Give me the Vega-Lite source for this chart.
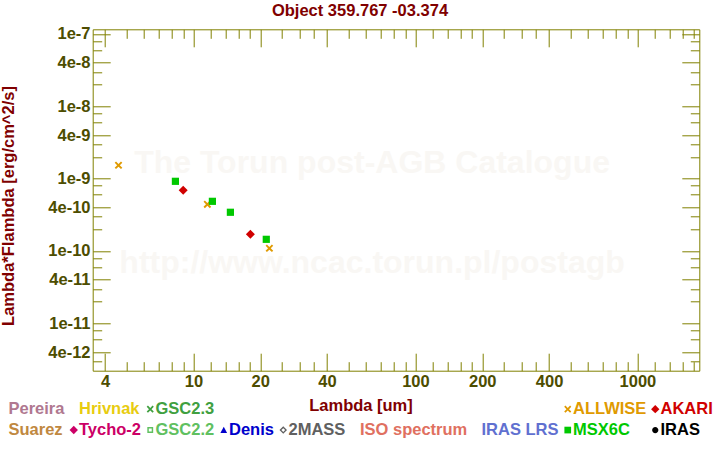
{
  "$schema": "https://vega.github.io/schema/vega-lite/v6.json",
  "width": 606.6,
  "height": 341.4,
  "autosize": {"type": "none"},
  "padding": {"left": 92.7, "top": 29.3, "right": 20.7, "bottom": 79.3},
  "background": "white",
  "title": {
    "text": "Object 359.767 -03.374",
    "color": "#800000",
    "font": "Liberation Sans",
    "fontSize": 16.5,
    "fontWeight": "bold",
    "anchor": "middle",
    "frame": "group",
    "dx": -36,
    "offset": -6.5,
    "baseline": "alphabetic"
  },
  "datasets": {
    "phot": [
      {"catalog": "ALLWISE", "lambda": 4.6, "flux": 1.53e-9},
      {"catalog": "ALLWISE", "lambda": 11.56, "flux": 4.42e-10},
      {"catalog": "ALLWISE", "lambda": 22.0, "flux": 1.09e-10},
      {"catalog": "AKARI", "lambda": 9.0, "flux": 6.9e-10},
      {"catalog": "AKARI", "lambda": 18.06, "flux": 1.7e-10},
      {"catalog": "MSX6C", "lambda": 8.3, "flux": 9.19e-10},
      {"catalog": "MSX6C", "lambda": 12.18, "flux": 4.86e-10},
      {"catalog": "MSX6C", "lambda": 14.68, "flux": 3.43e-10},
      {"catalog": "MSX6C", "lambda": 21.3, "flux": 1.45e-10}
    ],
    "watermark": [
      {"text": "The Torun post-AGB Catalogue", "lambda": 63.8, "flux": 1.63e-9},
      {"text": "http://www.ncac.torun.pl/postagb", "lambda": 63.8, "flux": 6.76e-11}
    ]
  },
  "layer": [
    {
      "data": {"name": "watermark"},
      "mark": {"type": "text", "font": "Liberation Sans", "fontWeight": "bold", "fontSize": 32, "color": "#f9f7f4", "align": "center", "baseline": "middle"},
      "encoding": {
        "x": {
          "field": "lambda", "type": "quantitative",
          "scale": {"type": "log", "domain": [3.52, 1900], "nice": false, "zero": false},
          "axis": {
            "orient": "top", "title": null, "labels": false,
            "values": [4,5,6,7,8,9,10,12,14,16,18,20,25,30,35,40,50,60,70,80,90,100,120,140,160,180,200,250,300,350,400,500,600,700,800,900,1000,1200,1400,1600,1800],
            "tickSize": {"condition": {"test": "indexof([4,10,20,40,100,200,400,1000], datum.value) >= 0", "value": -17.5}, "value": -9}
          }
        },
        "y": {
          "field": "flux", "type": "quantitative",
          "scale": {"type": "log", "domain": [2.213e-12, 1.161e-7], "nice": false, "zero": false},
          "axis": {
            "orient": "right", "title": null, "labels": false,
            "values": [1e-7,8e-8,6e-8,4e-8,3e-8,2e-8,1e-8,8e-9,6e-9,4e-9,3e-9,2e-9,1e-9,8e-10,6e-10,4e-10,3e-10,2e-10,1e-10,8e-11,6e-11,4e-11,3e-11,2e-11,1e-11,8e-12,6e-12,4e-12,3e-12],
            "tickSize": {"condition": {"test": "indexof([1e-7,4e-8,1e-8,4e-9,1e-9,4e-10,1e-10,4e-11,1e-11,4e-12], datum.value) >= 0", "value": -17.5}, "value": -9}
          }
        },
        "text": {"field": "text"}
      }
    },
    {
      "data": {"name": "phot"},
      "mark": {"type": "point", "filled": true, "opacity": 1, "strokeWidth": 0, "size": 81},
      "encoding": {
        "x": {
          "field": "lambda", "type": "quantitative",
          "scale": {"type": "log", "domain": [3.52, 1900], "nice": false, "zero": false},
          "axis": {
            "orient": "bottom",
            "title": "Lambda [um]",
            "titleX": 267.8, "titleY": 40.3, "titleBaseline": "alphabetic", "titleAnchor": null, "titleAlign": "center",
            "format": "~g",
            "values": [4,5,6,7,8,9,10,12,14,16,18,20,25,30,35,40,50,60,70,80,90,100,120,140,160,180,200,250,300,350,400,500,600,700,800,900,1000,1200,1400,1600,1800],
            "labelExpr": "indexof([4,10,20,40,100,200,400,1000], datum.value) >= 0 ? datum.label : ''",
            "labelPadding": 20.7,
            "tickSize": {"condition": {"test": "indexof([4,10,20,40,100,200,400,1000], datum.value) >= 0", "value": -17.5}, "value": -9}
          }
        },
        "y": {
          "field": "flux", "type": "quantitative",
          "scale": {"type": "log", "domain": [2.213e-12, 1.161e-7], "nice": false, "zero": false},
          "axis": {
            "orient": "left",
            "title": "Lambda*Flambda [erg/cm^2/s]",
            "titleX": -79.4, "titleY": 176.2, "titleBaseline": "alphabetic", "titleAngle": -90, "titleAnchor": null, "titleAlign": "center",
            "format": "~e",
            "values": [1e-7,8e-8,6e-8,4e-8,3e-8,2e-8,1e-8,8e-9,6e-9,4e-9,3e-9,2e-9,1e-9,8e-10,6e-10,4e-10,3e-10,2e-10,1e-10,8e-11,6e-11,4e-11,3e-11,2e-11,1e-11,8e-12,6e-12,4e-12,3e-12],
            "labelExpr": "indexof([1e-7,4e-8,1e-8,4e-9,1e-9,4e-10,1e-10,4e-11,1e-11,4e-12], datum.value) >= 0 ? datum.label : ''",
            "labelPadding": 20.2,
            "tickSize": {"condition": {"test": "indexof([1e-7,4e-8,1e-8,4e-9,1e-9,4e-10,1e-10,4e-11,1e-11,4e-12], datum.value) >= 0", "value": -17.5}, "value": -9}
          }
        },
        "color": {
          "field": "catalog", "type": "nominal",
          "scale": {
            "domain": ["Pereira","Hrivnak","GSC2.3","_1","_2","_3","_4","ALLWISE","AKARI","Suarez","Tycho-2","GSC2.2","Denis","2MASS","ISO spectrum","IRAS LRS","MSX6C","IRAS"],
            "range": ["#b07890","#e8cc10","#40a040","#ffffff","#ffffff","#ffffff","#ffffff","#e09a00","#d00000","#c08840","#cc0066","#60c060","#0000cc","#606060","#e07060","#6070d0","#00c800","#000000"]
          },
          "legend": {
            "title": null, "orient": "none", "legendX": -97.7, "legendY": 371.5,
            "direction": "horizontal", "columns": 9, "gridAlign": "each",
            "labelExpr": "indexof(['_1','_2','_3','_4'], datum.value) >= 0 ? '' : datum.label",
            "labelColor": {"expr": "scale('color', datum.value)"}
          }
        },
        "shape": {
          "field": "catalog", "type": "nominal",
          "scale": {
            "domain": ["Pereira","Hrivnak","GSC2.3","_1","_2","_3","_4","ALLWISE","AKARI","Suarez","Tycho-2","GSC2.2","Denis","2MASS","ISO spectrum","IRAS LRS","MSX6C","IRAS"],
            "range": [
              "M0,0",
              "M0,0",
              "M-0.85,-0.55L-0.55,-0.85L0,-0.3L0.55,-0.85L0.85,-0.55L0.3,0L0.85,0.55L0.55,0.85L0,0.3L-0.55,0.85L-0.85,0.55L-0.3,0Z",
              "M0,0", "M0,0", "M0,0", "M0,0",
              "M-0.85,-0.55L-0.55,-0.85L0,-0.3L0.55,-0.85L0.85,-0.55L0.3,0L0.85,0.55L0.55,0.85L0,0.3L-0.55,0.85L-0.85,0.55L-0.3,0Z",
              "M0,-1L1,0L0,1L-1,0Z",
              "M0,0",
              "M0,-1L1,0L0,1L-1,0Z",
              "M-0.7,-0.7L0.7,-0.7L0.7,0.7L-0.7,0.7Z M-0.35,-0.35L-0.35,0.35L0.35,0.35L0.35,-0.35Z",
              "M0,-0.8L0.8,0.7L-0.8,0.7Z",
              "M0,-0.9L0.9,0L0,0.9L-0.9,0Z M0,-0.45L-0.45,0L0,0.45L0.45,0Z",
              "M0,0",
              "M0,0",
              "M-0.8,-0.8L0.8,-0.8L0.8,0.8L-0.8,0.8Z",
              "M0.75,0A0.75,0.75,0,1,1,-0.75,0A0.75,0.75,0,1,1,0.75,0Z"
            ]
          },
          "legend": {
            "title": null, "orient": "none", "legendX": -97.7, "legendY": 371.5,
            "direction": "horizontal", "columns": 9, "gridAlign": "each",
            "labelExpr": "indexof(['_1','_2','_3','_4'], datum.value) >= 0 ? '' : datum.label",
            "labelColor": {"expr": "scale('color', datum.value)"}
          }
        }
      }
    }
  ],
  "resolve": {"axis": {"x": "independent", "y": "independent"}},
  "config": {
    "font": "Liberation Sans",
    "view": {"stroke": null},
    "axis": {
      "domainColor": "#808000",
      "domainWidth": 1,
      "tickColor": "#808000",
      "tickWidth": 1,
      "labelColor": "#4d4d00",
      "labelFont": "Liberation Sans",
      "labelFontWeight": "bold",
      "labelFontSize": 16.5,
      "labelFlush": false,
      "labelOverlap": false,
      "titleColor": "#800000",
      "titleFont": "Liberation Sans",
      "titleFontWeight": "bold",
      "titleFontSize": 16.5,
      "grid": false
    },
    "legend": {
      "labelFont": "Liberation Sans",
      "labelFontWeight": "bold",
      "labelFontSize": 16.5,
      "labelOffset": -3,
      "symbolSize": 70,
      "symbolStrokeWidth": 0,
      "columnPadding": 0.5,
      "rowPadding": 4,
      "symbolOpacity": 1
    }
  }
}
